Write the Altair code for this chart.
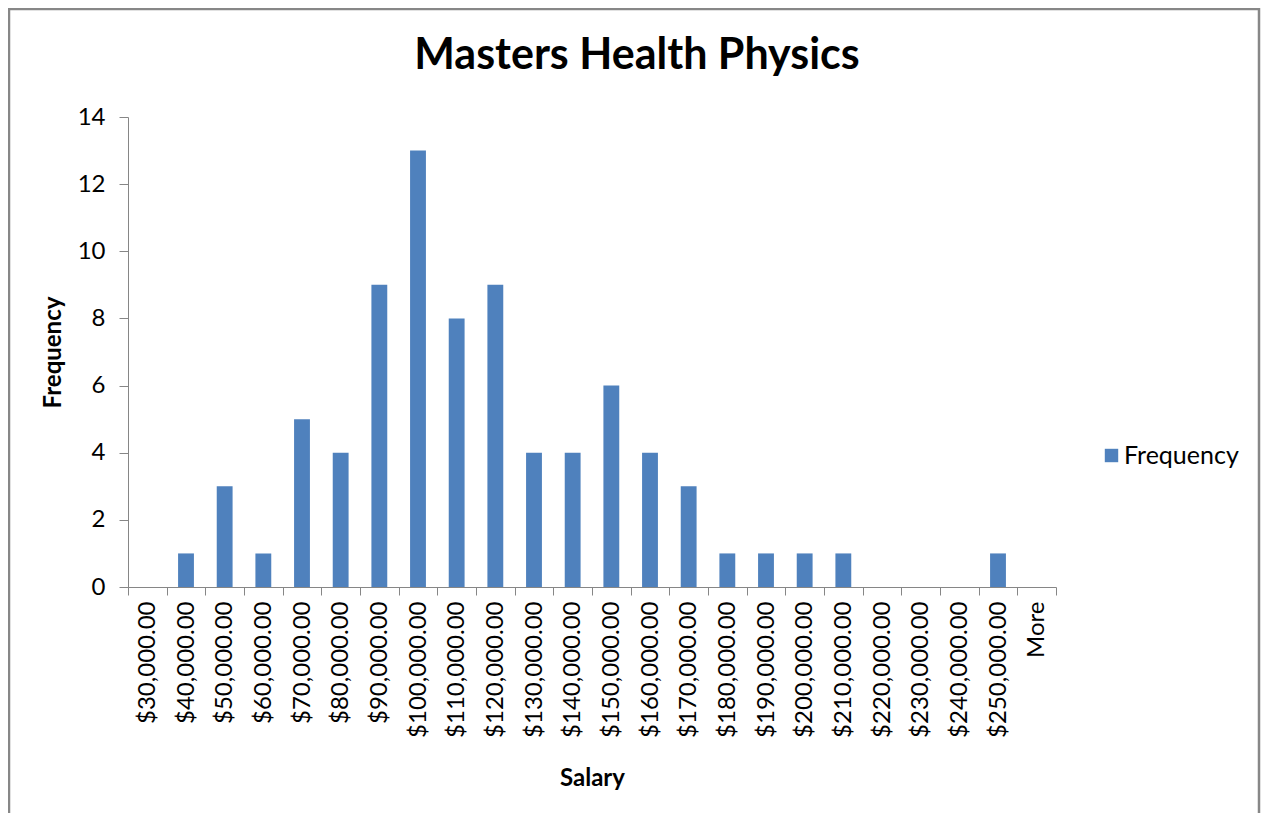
import altair as alt
import pandas as pd

categories = ["$30,000.00", "$40,000.00", "$50,000.00", "$60,000.00", "$70,000.00",
              "$80,000.00", "$90,000.00", "$100,000.00", "$110,000.00", "$120,000.00",
              "$130,000.00", "$140,000.00", "$150,000.00", "$160,000.00", "$170,000.00",
              "$180,000.00", "$190,000.00", "$200,000.00", "$210,000.00", "$220,000.00",
              "$230,000.00", "$240,000.00", "$250,000.00", "More"]
frequency = [0, 1, 3, 1, 5, 4, 9, 13, 8, 9, 4, 4, 6, 4, 3, 1, 1, 1, 1, 0, 0, 0, 1, 0]
series = ["Frequency"] * len(categories)
y_ticks = [0, 2, 4, 6, 8, 10, 12, 14]
chart_title = ["Masters Health Physics"]

df = pd.DataFrame({"Salary": categories, "Frequency": frequency, "Series": series})

FONT = "Lato"
AXIS_GRAY = "#868686"

bars = alt.Chart(df).mark_bar(width=alt.RelativeBandSize(0.41), color="#4F81BD").encode(
    x=alt.X("Salary:N", sort=categories,
            scale=alt.Scale(paddingInner=0, paddingOuter=0),
            axis=alt.Axis(title="Salary", labelAngle=-90, tickBand="extent",
                          labelFontSize=24, labelColor="#000000", labelPadding=6,
                          tickSize=8, tickColor=AXIS_GRAY, domainColor=AXIS_GRAY,
                          titleFontSize=24, titleFontWeight="bold", titleColor="#000000",
                          titleY=191, titleBaseline="middle", grid=False)),
    y=alt.Y("Frequency:Q", scale=alt.Scale(domain=[0, 14], nice=False),
            axis=alt.Axis(title="Frequency", values=y_ticks, labelFontSize=24,
                          labelColor="#000000", labelPadding=14, tickSize=9,
                          tickColor=AXIS_GRAY, domainColor=AXIS_GRAY, grid=False,
                          titleFontSize=24, titleFontWeight="bold", titleColor="#000000",
                          titleX=-75, titleBaseline="middle", titleAngle=-90)),
    color=alt.Color("Series:N", scale=alt.Scale(range=["#4F81BD"]),
                    legend=alt.Legend(title=None, orient="none", legendX=971, legendY=326,
                                      symbolType="square", symbolSize=180,
                                      labelFontSize=25, labelColor="#000000",
                                      symbolStrokeWidth=0, labelOffset=0)),
)

title_df = pd.DataFrame({"t": chart_title})
title = alt.Chart(title_df).mark_text(font=FONT, fontSize=43, fontWeight="bold",
                                      color="#000000", align="center",
                                      baseline="alphabetic").encode(
    text="t:N", x=alt.value(509), y=alt.value(-48)
)

border_df = pd.DataFrame({"b": [1]})
border = alt.Chart(border_df).mark_rect(fill=None, stroke="#878787", strokeWidth=2.5).encode(
    x=alt.value(-119), x2=alt.value(1131), y=alt.value(-108), y2=alt.value(705)
)

chart = alt.layer(bars, title, border).properties(
    width=928, height=470,
    autosize=alt.AutoSizeParams(type="none"),
    padding={"left": 120, "top": 109, "right": 205, "bottom": 226},
).configure(font=FONT).configure_view(stroke=None)

chart.save("out.html", embed_options={"renderer": "svg", "actions": False})
